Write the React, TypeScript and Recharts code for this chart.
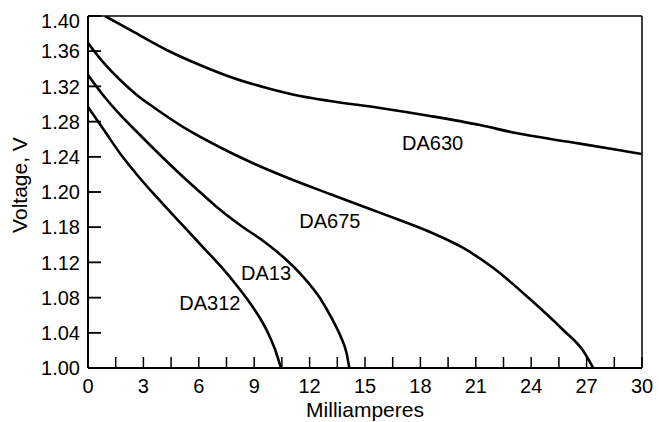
import React from 'react';
import { LineChart, Line, XAxis, YAxis, ReferenceDot, ReferenceArea } from 'recharts';

// ---- data ----
const da630X = [0.92, 2.45, 4.26, 6.06, 7.87, 9.68, 11.48, 13.1, 15.81, 18.52, 21.22, 23.17, 26.1, 28.8, 30];
const da630Y = [1.4, 1.3822, 1.3614, 1.3443, 1.3295, 1.3182, 1.3091, 1.3034, 1.2955, 1.2864, 1.2761, 1.267, 1.2568, 1.2474, 1.2432];

const da675X = [0, 0.9, 1.8, 2.71, 3.61, 5.41, 7.22, 9.03, 10.83, 13.1, 15.27, 16.72, 18.52, 20.32, 21.95, 23.93, 25.73, 26.82, 27.36];
const da675Y = [1.3693, 1.3455, 1.3261, 1.3091, 1.2955, 1.2705, 1.25, 1.2318, 1.2159, 1.1977, 1.1807, 1.1693, 1.1545, 1.1364, 1.1136, 1.0784, 1.0432, 1.0193, 1.0];

const da13X = [0, 0.9, 1.8, 2.71, 3.63, 4.98, 6.06, 6.97, 8.23, 9.49, 10.57, 11.66, 12.56, 13.21, 13.7, 14.0, 14.15];
const da13Y = [1.333, 1.308, 1.2864, 1.267, 1.2477, 1.2205, 1.2, 1.183, 1.1625, 1.1443, 1.1261, 1.1034, 1.0795, 1.056, 1.035, 1.017, 1.0];

const da312X = [0, 0.9, 1.8, 2.71, 3.61, 4.51, 5.41, 6.32, 7.22, 8.12, 8.77, 9.31, 9.75, 10.12, 10.45];
const da312Y = [1.2966, 1.2693, 1.242, 1.2182, 1.1966, 1.1761, 1.1557, 1.1352, 1.1148, 1.092, 1.0739, 1.0568, 1.0398, 1.0216, 1.0];

const seriesNames = ['DA630', 'DA675', 'DA13', 'DA312'];
const labelX = [18.66, 13.1, 9.64, 6.6];
const labelY = [1.2553, 1.1676, 1.1085, 1.0744];

const xMajorTicks = [0, 3, 6, 9, 12, 15, 18, 21, 24, 27, 30];
const xMinorTicks = [1.5, 4.5, 7.5, 10.5, 13.5, 16.5, 19.5, 22.5, 25.5, 28.5];
const yTicks = [1.0, 1.04, 1.08, 1.12, 1.16, 1.2, 1.24, 1.28, 1.32, 1.36, 1.4];
const yTickLabels = ['1.00', '1.04', '1.08', '1.12', '1.18', '1.20', '1.24', '1.28', '1.32', '1.36', '1.40'];

const xAllTicks = [...xMajorTicks, ...xMinorTicks].sort((a, b) => a - b);

const X_MIN = 0;
// inward y tick mark: length ≈13 px (in mA) and half thickness ≈0.75 px (in V)
const Y_TICK_LEN = 0.7;
const Y_TICK_HALF = 0.00085;

const toPoints = (xs: number[], ys: number[]) => xs.map((x, i) => ({ x, y: ys[i] }));
const seriesData = [
  toPoints(da630X, da630Y),
  toPoints(da675X, da675Y),
  toPoints(da13X, da13Y),
  toPoints(da312X, da312Y),
];

const FONT = '"Liberation Sans", Arial, Helvetica, sans-serif';
const TICK_LINE = { stroke: '#000', strokeWidth: 1.5 };

const XTickLabel = (props: any) => {
  const { x, y, payload } = props;
  if (!xMajorTicks.includes(payload.value)) return <g />;
  return (
    <text x={x} y={y + 11} dy="0.71em" textAnchor="middle" fontSize={20} fill="#000" fontFamily={FONT}>
      {String(payload.value)}
    </text>
  );
};

const YTickLabel = (props: any) => {
  const { x, y, index } = props;
  const ty = index === yTicks.length - 1 ? y + 5 : y;
  return (
    <text x={x - 8} y={ty} dy="0.355em" textAnchor="end" fontSize={20} fill="#000" fontFamily={FONT}>
      {yTickLabels[index]}
    </text>
  );
};

const YLabel = (props: any) => {
  const vb = props.viewBox || { x: 0, y: 16, width: 88, height: 352 };
  const cx = vb.x + 27;
  const cy = vb.y + vb.height / 2 - 7;
  return (
    <text
      x={cx}
      y={cy}
      transform={`rotate(-90, ${cx}, ${cy})`}
      textAnchor="middle"
      fontSize={21}
      fill="#000"
      fontFamily={FONT}
    >
      Voltage, V
    </text>
  );
};

export default function App() {
  return (
    <div style={{ position: 'absolute', left: 0, top: 0, width: 659, height: 422, background: '#fff', fontFamily: FONT }}>
      <LineChart width={659} height={422} margin={{ top: 15, right: 16, bottom: 0, left: 0 }}>
        <XAxis
          xAxisId="x"
          dataKey="x"
          type="number"
          domain={[0, 30]}
          ticks={xAllTicks}
          interval={0}
          height={54}
          tickSize={-11}
          tickMargin={11}
          tickLine={TICK_LINE}
          tick={<XTickLabel />}
          axisLine={{ stroke: '#000', strokeWidth: 2 }}
          allowDataOverflow
          label={{ value: 'Milliamperes', position: 'insideBottom', offset: 5, fill: '#000', fontSize: 21, fontFamily: FONT }}
        />
        <XAxis
          xAxisId="top"
          orientation="top"
          type="number"
          domain={[0, 30]}
          height={1}
          tick={false}
          tickLine={false}
          axisLine={{ stroke: '#000', strokeWidth: 1.5 }}
          allowDataOverflow
        />
        <YAxis
          yAxisId="left"
          type="number"
          domain={[1.0, 1.4]}
          ticks={yTicks}
          interval={0}
          width={88}
          tickSize={-13}
          tickMargin={13}
          tickLine={TICK_LINE}
          tick={<YTickLabel />}
          axisLine={{ stroke: '#000', strokeWidth: 2 }}
          allowDataOverflow
          label={{ content: YLabel }}
        />
        <YAxis
          yAxisId="right"
          orientation="right"
          type="number"
          domain={[1.0, 1.4]}
          width={1}
          tick={false}
          tickLine={false}
          axisLine={{ stroke: '#000', strokeWidth: 1.5 }}
          allowDataOverflow
        />
        {yTicks.map((v) => (
          <ReferenceArea
            key={'ytm' + v}
            xAxisId="x"
            yAxisId="left"
            x1={X_MIN}
            x2={X_MIN + Y_TICK_LEN}
            y1={v - Y_TICK_HALF}
            y2={v + Y_TICK_HALF}
            fill="#000"
            fillOpacity={1}
            stroke="none"
            ifOverflow="visible"
          />
        ))}
        {seriesData.map((d, i) => (
          <Line
            key={seriesNames[i]}
            xAxisId="x"
            yAxisId="left"
            data={d}
            dataKey="y"
            type="monotone"
            stroke="#000"
            strokeWidth={2.6}
            dot={false}
            isAnimationActive={false}
          />
        ))}
        {seriesNames.map((n, i) => (
          <ReferenceDot
            key={'lbl' + n}
            xAxisId="x"
            yAxisId="left"
            x={labelX[i]}
            y={labelY[i]}
            r={0}
            fill="none"
            stroke="none"
            label={{ value: n, position: 'center', fill: '#000', fontSize: 20, fontFamily: FONT }}
          />
        ))}
      </LineChart>
    </div>
  );
}
